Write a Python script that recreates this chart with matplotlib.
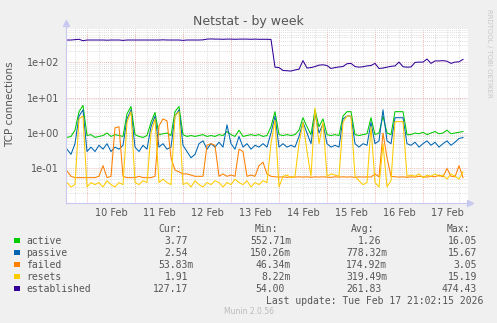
import numpy as np
import matplotlib
matplotlib.use("Agg")
import matplotlib.pyplot as plt
from matplotlib.ticker import LogLocator, MultipleLocator, NullFormatter
from matplotlib.patches import Rectangle

# hours since 10 Feb 00:00, one sample every 2 hours
hours = np.arange(-10, 190, 2)

active = [0.75, 0.8, 1.2, 4.0, 6.0, 0.85, 0.9, 0.75, 0.8, 0.85,
          1.0, 0.8, 0.9, 0.85, 0.8, 3.5, 5.6, 0.9, 0.8, 0.75,
          0.85, 2.0, 3.8, 0.9, 0.95, 1.0, 0.85, 4.0, 5.6, 0.9,
          0.8, 0.85, 0.8, 0.85, 0.9, 0.8, 0.85, 0.8, 0.9, 0.85,
          1.1, 0.9, 0.8, 1.2, 0.8, 0.85, 0.9, 0.85, 0.9, 0.8,
          0.85, 1.5, 4.0, 0.9, 0.85, 0.9, 0.85, 0.9, 1.2, 2.7,
          1.5, 0.9, 4.5, 1.5, 2.5, 0.9, 0.85, 0.9, 0.85, 3.0,
          4.0, 4.0, 0.9, 0.85, 0.9, 0.95, 2.7, 0.9, 1.0, 3.0,
          1.0, 0.9, 4.0, 4.0, 4.0, 0.9, 0.9, 1.0, 0.95, 1.05,
          0.9, 1.0, 1.1, 0.95, 1.0, 1.2, 0.95, 1.0, 1.05, 1.1]

passive = [0.35, 0.25, 0.5, 3.0, 4.5, 0.3, 0.4, 0.3, 0.45, 0.35,
           0.5, 0.3, 0.4, 0.35, 0.45, 2.5, 4.5, 0.4, 0.3, 0.45,
           0.35, 1.5, 3.0, 0.4, 0.5, 0.35, 0.4, 3.0, 4.5, 0.45,
           0.3, 0.2, 0.25, 0.5, 0.6, 0.35, 0.5, 0.4, 0.55, 0.4,
           1.7, 0.5, 0.35, 0.8, 0.4, 0.5, 0.35, 0.45, 0.4, 0.5,
           0.4, 1.0, 3.0, 0.4, 0.5, 0.4, 0.45, 0.4, 0.8, 2.0,
           1.0, 0.5, 3.5, 1.0, 1.8, 0.5, 0.4, 0.45, 0.4, 2.5,
           3.0, 3.0, 0.5, 0.4, 0.5, 0.45, 2.0, 0.5, 0.6, 4.5,
           0.6, 0.5, 2.7, 2.7, 2.7, 0.5, 0.45, 0.55, 0.4, 0.5,
           0.6, 0.45, 0.55, 0.4, 0.5, 0.6, 0.45, 0.55, 0.7, 0.75]

failed = [0.085, 0.06, 0.055, 0.055, 0.055, 0.055, 0.055, 0.055, 0.06, 0.12,
          0.055, 0.06, 1.4, 1.5, 0.06, 0.055, 0.055, 0.055, 0.06, 0.055,
          0.055, 0.055, 0.06, 1.6, 2.5, 2.2, 0.2, 0.09, 0.08, 0.07,
          0.07, 0.065, 0.06, 0.06, 0.06, 0.45, 0.5, 0.45, 0.06, 0.07,
          0.06, 0.065, 0.06, 0.35, 0.3, 0.06, 0.065, 0.06, 0.12, 0.15,
          0.07, 0.06, 0.058, 0.057, 0.058, 0.056, 0.058, 0.057, 0.058, 0.057,
          0.058, 0.056, 0.058, 0.057, 0.058, 0.057, 0.056, 0.058, 0.057, 0.058,
          0.057, 0.058, 0.056, 0.058, 0.057, 0.058, 0.057, 0.07, 0.058, 1.0,
          0.2, 0.06, 0.058, 0.057, 0.058, 0.056, 0.058, 0.057, 0.06, 0.058,
          0.057, 0.06, 0.058, 0.065, 0.058, 0.1, 0.06, 0.058, 0.12, 0.055]

resets = [0.04, 0.03, 0.035, 2.5, 3.0, 0.03, 0.04, 0.035, 0.04, 0.03,
          0.045, 0.035, 0.03, 0.04, 0.035, 2.0, 4.0, 0.04, 0.035, 0.045,
          0.04, 1.0, 2.5, 0.04, 0.05, 0.04, 0.035, 3.0, 4.0, 0.035,
          0.04, 0.03, 0.045, 0.035, 0.03, 0.04, 0.035, 0.045, 0.04, 0.03,
          0.04, 0.035, 0.05, 0.04, 0.035, 0.045, 0.03, 0.04, 0.035, 0.045,
          0.04, 0.5, 2.3, 0.03, 0.06, 0.065, 0.055, 0.06, 0.5, 2.0,
          0.3, 0.06, 5.0, 0.5, 2.0, 0.06, 0.07, 0.065, 0.06, 2.0,
          3.0, 3.0, 0.06, 0.045, 0.035, 0.04, 1.5, 0.04, 0.03, 0.5,
          0.03, 0.045, 2.1, 2.1, 2.1, 0.06, 0.065, 0.06, 0.07, 0.055,
          0.065, 0.06, 0.07, 0.06, 0.065, 0.05, 0.07, 0.06, 0.05, 0.08]

established = [420, 420, 430, 440, 400, 420, 420, 420, 420, 420,
               415, 420, 420, 420, 410, 420, 420, 420, 420, 420,
               420, 420, 420, 420, 425, 420, 420, 420, 420, 410,
               420, 420, 420, 420, 425, 445, 450, 445, 445, 440,
               445, 445, 440, 445, 445, 445, 440, 445, 440, 440,
               440, 435, 72, 70, 58, 57, 56, 60, 63, 110,
               68, 70, 75, 82, 84, 80, 66, 70, 73, 75,
               90, 92, 75, 72, 74, 78, 80, 92, 66, 68,
               72, 76, 78, 100, 74, 72, 73, 98, 100, 100,
               122, 92, 108, 108, 110, 106, 92, 100, 102, 119]

names = ["active", "passive", "failed", "resets", "established"]
colors = ["#00CC00", "#0066B3", "#FF8000", "#FFCC00", "#330099"]
cur = ["3.77", "2.54", "53.83m", "1.91", "127.17"]
mins = ["552.71m", "150.26m", "46.34m", "8.22m", "54.00"]
avgs = ["1.26", "778.32m", "174.92m", "319.49m", "261.83"]
maxs = ["16.05", "15.67", "3.05", "15.19", "474.43"]

day_labels = ["10 Feb", "11 Feb", "12 Feb", "13 Feb", "14 Feb", "15 Feb", "16 Feb", "17 Feb"]
day_noon = [12, 36, 60, 84, 108, 132, 156, 180]

W, H = 497, 323
bg = "#F0F0F0"
txt = "#555555"

fig = plt.figure(figsize=(W / 100, H / 100), dpi=100, facecolor=bg)
ax = fig.add_axes([66 / W, 1 - 203 / H, (468 - 66) / W, (203 - 28) / H])
ax.set_facecolor("white")

for vals, c in zip([active, passive, failed, resets, established], colors):
    ax.plot(hours, vals, color=c, lw=0.75)

ax.set_yscale("log")
ax.set_ylim(0.0106, 916)
ax.set_xlim(-10.5, 190.5)

ax.yaxis.set_minor_locator(LogLocator(base=10, subs=np.arange(2, 10), numticks=20))
ax.yaxis.set_minor_formatter(NullFormatter())
ax.set_yticks([0.1, 1, 10, 100])
ax.set_yticklabels(["1e-01", "1e+00", "1e+01", "1e+02"])
ax.xaxis.set_major_locator(MultipleLocator(24))
ax.xaxis.set_minor_locator(MultipleLocator(6))
ax.set_xticklabels([])

ax.grid(which="minor", color="#D4D4D4", lw=0.6, linestyle=(0, (1, 1.5)))
ax.grid(which="major", color="#E8A0A0", lw=0.6, linestyle=(0, (1, 1.5)))
ax.set_axisbelow(True)

ax.tick_params(which="both", length=0)
ax.tick_params(axis="y", labelsize=7, labelcolor=txt, pad=5)

for s in ["top", "right"]:
    ax.spines[s].set_visible(False)
for s in ["left", "bottom"]:
    ax.spines[s].set_color("#C8C8F0")
    ax.spines[s].set_linewidth(0.8)
ax.plot([0], [1.03], marker="^", ms=4, color="#C8C8F0", transform=ax.transAxes, clip_on=False)
ax.plot([1.005], [0], marker=">", ms=4, color="#C8C8F0", transform=ax.transAxes, clip_on=False)
ax.plot([0, 0], [1, 1.03], color="#C8C8F0", lw=0.8, transform=ax.transAxes, clip_on=False)

for t, lab in zip(day_noon, day_labels):
    ax.text(t, -0.055, lab, transform=ax.get_xaxis_transform(), ha="center", va="center",
            fontsize=7, color=txt)

fig.text(0.5, 1 - 25 / H, "Netstat - by week", ha="center", va="baseline", fontsize=9, color=txt)
fig.text(10.5 / W, 1 - 104 / H, "TCP connections", rotation=90, ha="center", va="center",
         fontsize=7.5, color=txt)
fig.text(488.5 / W, 1 - 53 / H, "RRDTOOL / TOBI OETIKER", rotation=270, ha="center", va="center",
         fontsize=5, color="#C8C8C8")

mono = "DejaVu Sans Mono"
cw = 5.9
cols = [194, 291, 387, 483]
for hdr, cx in zip(["Cur:", "Min:", "Avg:", "Max:"], cols):
    fig.text((cx - 12.5) / W, 1 - 231.5 / H, hdr, ha="right", va="baseline",
             fontsize=7, family=mono, color=txt)

for k, name in enumerate(names):
    base = 243.5 + 12 * k
    fig.patches.append(Rectangle((14 / W, 1 - (base - 0.5) / H), 5.5 / W, 5.5 / H,
                                 transform=fig.transFigure, facecolor=colors[k], edgecolor="none"))
    fig.text(26 / W, 1 - base / H, name, ha="left", va="baseline", fontsize=7, family=mono, color=txt)
    for val, cx in zip([cur[k], mins[k], avgs[k], maxs[k]], cols):
        x = cx if val.endswith("m") else cx - cw
        fig.text(x / W, 1 - base / H, val, ha="right", va="baseline", fontsize=7, family=mono, color=txt)

fig.text(483 / W, 1 - 303.5 / H, "Last update: Tue Feb 17 21:02:15 2026", ha="right", va="baseline",
         fontsize=7, family=mono, color=txt)
fig.text(0.5, 1 - 314.5 / H, "Munin 2.0.56", ha="center", va="baseline", fontsize=5.5, color="#BBBBBB")

fig.savefig("out.png", dpi=100, facecolor=bg)
